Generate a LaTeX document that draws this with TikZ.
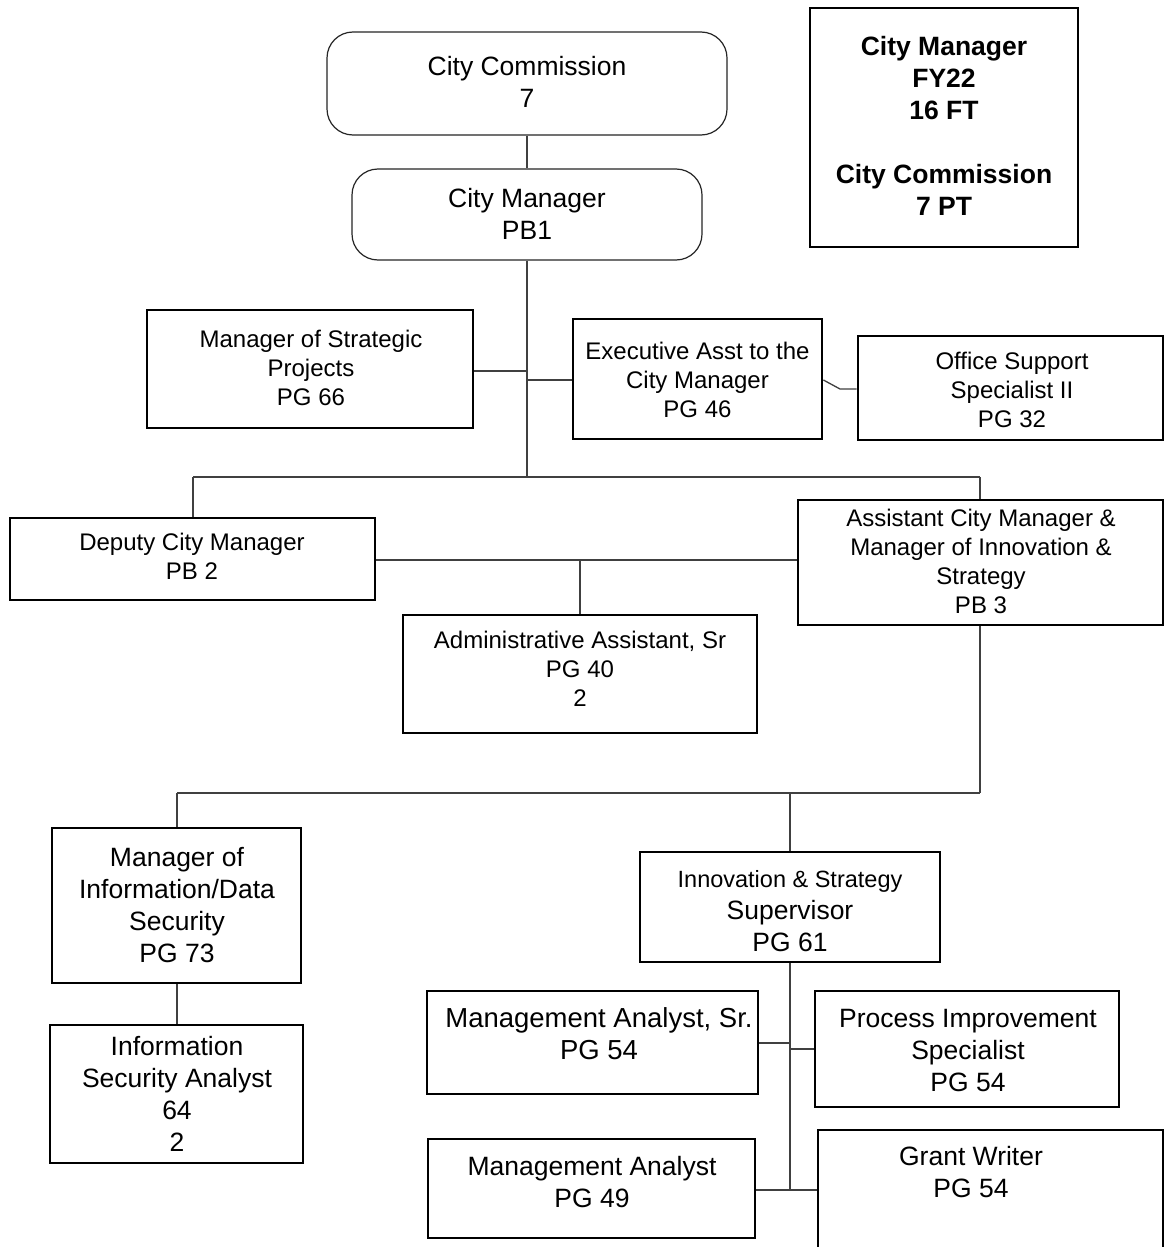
\documentclass[tikz,border=0pt]{standalone}
\usepackage{fontspec}
\setmainfont{Liberation Sans}
\begin{document}
\begin{tikzpicture}[x=1pt,y=-1pt,
  box/.style={draw=black,line width=2.8pt,rectangle,inner sep=0pt,fill=white},
  rbox/.style={draw=black!85,line width=1.2pt,rectangle,rounded corners=26pt,inner sep=0pt},
  conn/.style={draw=black!75,line width=1.3pt},
  big/.style={font=\fontsize{26.5}{32}\selectfont,align=center,inner sep=0pt},
  small/.style={font=\fontsize{24}{28.8}\selectfont,align=center,inner sep=0pt},
  bigb/.style={font=\fontsize{26.5}{32}\selectfont\bfseries,align=center,inner sep=0pt}]
\clip (0,0) rectangle (1169,1247);
\useasboundingbox (0,0) rectangle (1169,1247);
\fill[white] (0,0) rectangle (1169,1247);

% junction coordinates
\coordinate (j1) at (527,477);
\coordinate (jm) at (527,371);
\coordinate (je) at (527,380);
\coordinate (jd) at (193,477);
\coordinate (ja) at (980,477);
\coordinate (jadm) at (580,560);
\coordinate (j2) at (980,793);
\coordinate (jmis) at (177,793);
\coordinate (jinn) at (790,793);
\coordinate (jb) at (790,1190);
\coordinate (jmas) at (790,1043);
\coordinate (jpis) at (790,1049);
\coordinate (jbend) at (840,389);

% boxes
\node[rbox,minimum width=400pt,minimum height=103pt] (cc) at (527,83.5) {};
\node[rbox,minimum width=350pt,minimum height=91pt] (cm) at (527,214.5) {};
\node[box,minimum width=268pt,minimum height=239pt] (leg) at (944,127.5) {};
\node[box,minimum width=326pt,minimum height=118pt] (msp) at (310,369) {};
\node[box,minimum width=249pt,minimum height=120pt] (exec) at (697.5,379) {};
\node[box,minimum width=305pt,minimum height=104pt] (off) at (1010.5,388) {};
\node[box,minimum width=365pt,minimum height=82pt] (dep) at (192.5,559) {};
\node[box,minimum width=365pt,minimum height=125pt] (acm) at (980.5,562.5) {};
\node[box,minimum width=354pt,minimum height=118pt] (adm) at (580,674) {};
\node[box,minimum width=249pt,minimum height=155pt] (mis) at (176.5,905.5) {};
\node[box,minimum width=253pt,minimum height=138pt] (isa) at (176.5,1094) {};
\node[box,minimum width=300pt,minimum height=110pt] (inn) at (790,907) {};
\node[box,minimum width=331pt,minimum height=103pt] (mas) at (592.5,1042.5) {};
\node[box,minimum width=304pt,minimum height=116pt] (pis) at (967,1049) {};
\node[box,minimum width=327pt,minimum height=99pt] (ma) at (591.5,1188.5) {};
\node[box,minimum width=345pt,minimum height=140pt] (gw) at (990.5,1200) {};

% connector paths
\draw[conn] (cc.south) -- (cm.north);
\draw[conn] (cm.south) -- (j1);
\draw[conn] (msp.east |- jm) -- (jm);
\draw[conn] (je) -- (exec.west |- je);
\draw[conn] (exec.east |- je) -- (jbend) -- (off.west |- jbend);
\draw[conn] (jd) -- (ja);
\draw[conn] (jd) -- (dep.north -| jd);
\draw[conn] (ja) -- (acm.north -| ja);
\draw[conn] (dep.east |- jadm) -- (acm.west |- jadm);
\draw[conn] (jadm) -- (adm.north -| jadm);
\draw[conn] (acm.south -| j2) -- (j2);
\draw[conn] (jmis) -- (j2);
\draw[conn] (jmis) -- (mis.north -| jmis);
\draw[conn] (jinn) -- (inn.north -| jinn);
\draw[conn] (mis.south -| jmis) -- (isa.north -| jmis);
\draw[conn] (inn.south -| jb) -- (jb);
\draw[conn] (mas.east |- jmas) -- (jmas);
\draw[conn] (jpis) -- (pis.west |- jpis);
\draw[conn] (ma.east |- jb) -- (gw.west |- jb);

% texts
\node[big] (cct) at (527,82) {City Commission\\7};
\node[big] (cmt) at (527,213.5) {City Manager\\PB1};
\node[bigb] (legt) at (944,126) {City Manager\\FY22\\16 FT\\[32pt]City Commission\\7 PT};
\node[small] (mspt) at (311,368) {Manager of Strategic\\Projects\\PG 66};
\node[small] (exect) at (697.5,380) {Executive Asst to the\\City Manager\\PG 46};
\node[small] (offt) at (1012,390) {Office Support\\Specialist II\\PG 32};
\node[small] (dept) at (192,556.5) {Deputy City Manager\\PB 2};
\node[small] (acmt) at (981,561.5) {Assistant City Manager \&\\Manager of Innovation \&\\Strategy\\PB 3};
\node[small] (admt) at (580,669) {Administrative Assistant, Sr\\PG 40\\2};
\node[big] (mist) at (177,905) {Manager of\\Information/Data\\Security\\PG 73};
\node[big] (isat) at (177,1094) {Information\\Security Analyst\\64\\2};
\node[big] (innt) at (790,911) {{\fontsize{23.5}{28}\selectfont Innovation \& Strategy}\\Supervisor\\PG 61};
\node[big,font=\fontsize{27.5}{32}\selectfont] (mast) at (599,1034) {Management Analyst, Sr.\\PG 54};
\node[big] (pist) at (968,1050) {Process Improvement\\Specialist\\PG 54};
\node[big] (mat) at (592,1182) {Management Analyst\\PG 49};
\node[big] (gwt) at (971,1172) {Grant Writer\\PG 54};
\end{tikzpicture}
\end{document}
